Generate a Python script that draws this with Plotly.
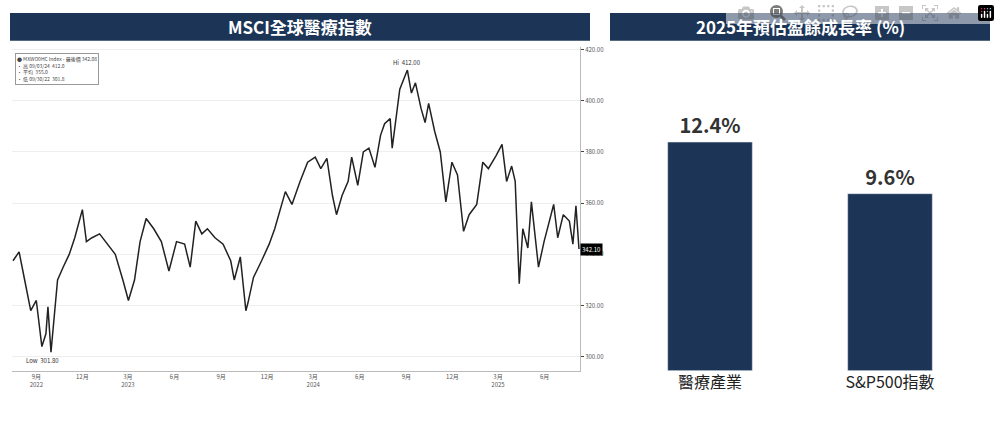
import plotly.graph_objects as go

# MSCI world health care index
dates = ["2022-07-17", "2022-07-29", "2022-08-09", "2022-08-21", "2022-09-01", "2022-09-12",
         "2022-09-20", "2022-09-24", "2022-09-30", "2022-10-05", "2022-10-13", "2022-10-24",
         "2022-11-05", "2022-11-16", "2022-11-27", "2022-12-01", "2022-12-09", "2022-12-20",
         "2023-01-04", "2023-01-20", "2023-02-04", "2023-02-19", "2023-03-02", "2023-03-14",
         "2023-03-25", "2023-04-06", "2023-04-21", "2023-05-06", "2023-05-21", "2023-06-05",
         "2023-06-21", "2023-07-02", "2023-07-13", "2023-07-25", "2023-08-05", "2023-08-20",
         "2023-09-05", "2023-09-20", "2023-09-27", "2023-10-09", "2023-10-20", "2023-10-24",
         "2023-11-04", "2023-11-20", "2023-12-05", "2023-12-16", "2023-12-28", "2024-01-06",
         "2024-01-19", "2024-02-04", "2024-02-19", "2024-03-05", "2024-03-16", "2024-03-28",
         "2024-04-08", "2024-04-16", "2024-04-27", "2024-05-09", "2024-05-16", "2024-05-28",
         "2024-06-08", "2024-06-19", "2024-07-01", "2024-07-12", "2024-07-20", "2024-07-31",
         "2024-08-04", "2024-08-19", "2024-09-03", "2024-09-11", "2024-09-19", "2024-09-30",
         "2024-10-08", "2024-10-15", "2024-10-27", "2024-11-07", "2024-11-18", "2024-11-30",
         "2024-12-11", "2024-12-23", "2025-01-03", "2025-01-18", "2025-01-30", "2025-02-10",
         "2025-02-25", "2025-03-09", "2025-03-18", "2025-03-28", "2025-04-04", "2025-04-12",
         "2025-04-19", "2025-04-29", "2025-05-06", "2025-05-16", "2025-05-20", "2025-05-31",
         "2025-06-19", "2025-06-27", "2025-07-08", "2025-07-20", "2025-07-27", "2025-08-02",
         "2025-08-08"]
index_values = [337.5, 341, 330, 318, 322, 304, 309, 319.5, 301.8, 312, 330, 335,
                340, 346.5, 354, 357.5, 345, 346.5, 348, 344, 340, 330, 322, 330,
                345, 354, 350, 345, 333.5, 345, 344, 335, 353, 348, 350, 346.5,
                344, 337.5, 330, 339, 318, 321, 331, 337.5, 344, 350, 358, 364.5,
                359.5, 368.5, 376, 378, 373.5, 377.5, 363, 355.5, 363, 368.5, 378, 367,
                380, 381.5, 374, 386.5, 391, 393, 381.5, 404.5, 412, 403, 407, 397,
                391.5, 399, 388, 380, 360.5, 376, 371, 349, 355.5, 359.5, 376, 373.5,
                378.5, 383, 368.5, 374.5, 368.5, 328.5, 350, 342.5, 360.5, 342.5, 335, 345,
                359.5, 346.5, 355.5, 353, 344, 359, 342.1]

y_ticks = [300, 320, 340, 360, 380, 400, 420]
x_tick_dates = ["2022-09-01", "2022-12-01", "2023-03-01", "2023-06-01", "2023-09-01",
                "2023-12-01", "2024-03-01", "2024-06-01", "2024-09-01", "2024-12-01",
                "2025-03-01", "2025-06-01"]
x_tick_text = ["9月<br>2022", "12月", "3月<br>2023", "6月", "9月", "12月",
               "3月<br>2024", "6月", "9月", "12月", "3月<br>2025", "6月"]

# 2025 EPS growth bars
categories = ["醫療產業", "S&P500指數"]
growth = [12.4, 9.6]

navy = "#1c3557"

fig = go.Figure()
fig.add_scatter(x=dates, y=index_values, mode="lines", line=dict(color="#222", width=1.5),
                xaxis="x", yaxis="y", showlegend=False)
fig.add_bar(x=categories, y=growth, marker_color=navy, width=0.47,
            text=[f"<b>{v}%</b>" for v in growth], textposition="outside",
            textfont=dict(size=20, color="#333", family="Noto Sans CJK TC"),
            xaxis="x2", yaxis="y2", showlegend=False, cliponaxis=False)

# high / low markers
lo = index_values.index(min(index_values))
hi = index_values.index(max(index_values))
fig.add_annotation(x=dates[lo], y=index_values[lo], text=f"Low  {index_values[lo]:.2f}",
                   showarrow=False, yshift=-8, xshift=-8, font=dict(size=6, color="#333"))
fig.add_annotation(x=dates[hi], y=index_values[hi], text=f"Hi  {index_values[hi]:.2f}",
                   showarrow=False, yshift=8, font=dict(size=6, color="#333"))
fig.add_annotation(x=1, xref="x domain", y=index_values[-1], yref="y",
                   text=f"{index_values[-1]:.2f}", showarrow=False, xanchor="left",
                   bgcolor="black", font=dict(size=6, color="white"))

# tiny legend box
fig.add_annotation(x=0.015, y=0.885, xref="paper", yref="paper", xanchor="left", yanchor="top",
                   align="left", showarrow=False, bordercolor="#999", borderwidth=1,
                   bgcolor="white", font=dict(size=5, color="#444"),
                   text="● MXWO0HC Index - 最後價 342.08<br>· 高 09/03/24  412.0<br>· 平均  355.0<br>· 低 09/30/22  301.8")

# headers
fig.add_shape(type="rect", xref="paper", yref="paper", x0=0.01, x1=0.59, y0=1 - 38 / 435,
              y1=1 - 10 / 435, fillcolor=navy, line_width=0)
fig.add_shape(type="rect", xref="paper", yref="paper", x0=0.61, x1=0.99, y0=1 - 38 / 435,
              y1=1 - 10 / 435, fillcolor=navy, line_width=0)
fig.add_annotation(x=0.30, y=1 - 24 / 435, xref="paper", yref="paper", text="<b>MSCI全球醫療指數</b>",
                   showarrow=False, xanchor="center", yanchor="middle",
                   font=dict(size=17, color="white", family="Noto Sans CJK TC"))
fig.add_annotation(x=0.80, y=1 - 24 / 435, xref="paper", yref="paper", text="<b>2025年預估盈餘成長率 (%)</b>",
                   showarrow=False, xanchor="center", yanchor="middle",
                   font=dict(size=17, color="white", family="Noto Sans CJK TC"))

fig.update_layout(
    width=1000, height=435, margin=dict(l=0, r=0, t=0, b=0),
    paper_bgcolor="white", plot_bgcolor="white",
    font=dict(family="Noto Sans CJK TC"),
    xaxis=dict(domain=[0.012, 0.58], range=["2022-07-15", "2025-08-10"], tickvals=x_tick_dates,
               ticktext=x_tick_text, tickfont=dict(size=6, color="#555"), showgrid=False,
               showline=True, linecolor="#bbb", anchor="y"),
    yaxis=dict(domain=[0.149, 0.897], range=[294.6, 420.8], tickvals=y_ticks,
               ticktext=[f"{v:.2f}" for v in y_ticks], side="right", tickfont=dict(size=6, color="#555"),
               gridcolor="#eee", showline=True, linecolor="#bbb", ticks="outside", ticklen=3,
               anchor="x"),
    xaxis2=dict(domain=[0.62, 0.98], anchor="y2", showline=False,
                tickfont=dict(size=16, color="#222")),
    yaxis2=dict(domain=[0.149, 0.885], range=[0, 17.25], visible=False, anchor="x2"),
)

fig.write_html("out.html", post_script="document.body.style.margin='0';")
